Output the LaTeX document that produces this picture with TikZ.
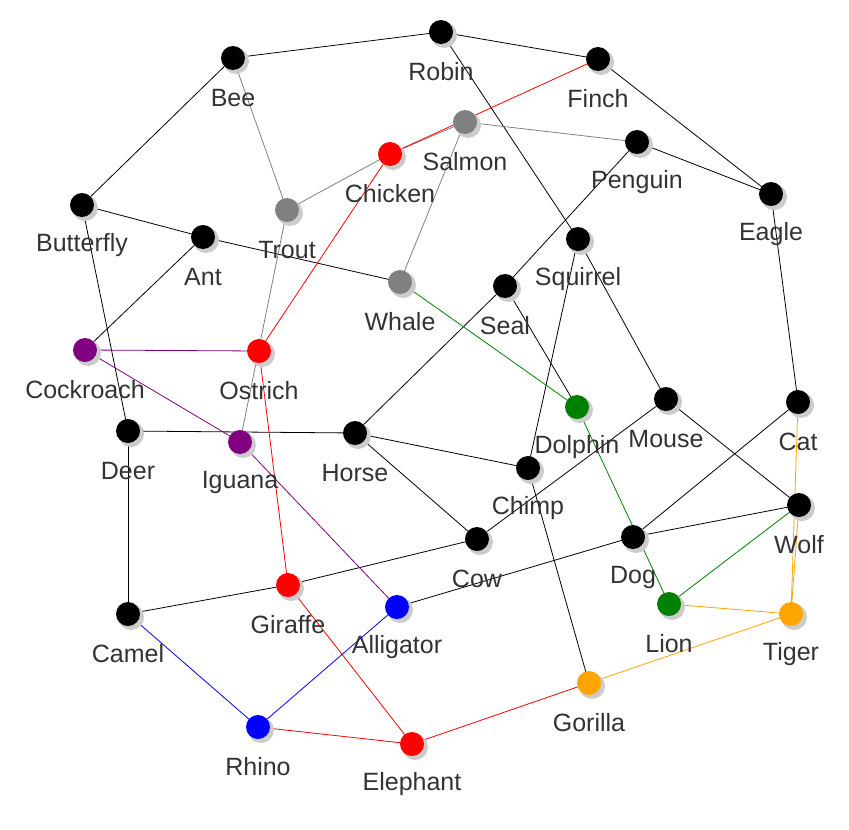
\documentclass[tikz,border=0pt]{standalone}
\usepackage{fontspec}
\setmainfont{Liberation Sans}
\definecolor{pur}{HTML}{800080}
\definecolor{org}{HTML}{FFA500}
\definecolor{grn}{HTML}{008000}
\begin{document}
\begin{tikzpicture}[x=1pt,y=-1pt,
 v/.style={circle,fill=#1,minimum size=24pt,inner sep=0pt},
 lab/.style={text=black!80,font=\fontsize{25}{26}\selectfont},
 e/.style={line width=0.8pt,#1}]
\useasboundingbox (0,0) rectangle (849,830);
\foreach \n/\x/\y in {Robin/441/32,Bee/233/58,Finch/598/59,Salmon/465/122,Chicken/390/154,Penguin/637/142,Eagle/771/194,Butterfly/82/205,Trout/287/210,Ant/203/237,Squirrel/578/239,Whale/400/282,Seal/505/286,Cockroach/85/350,Ostrich/259/351,Dolphin/577/407,Mouse/666/399,Cat/798/402,Deer/128/431,Iguana/240/442,Horse/355/433,Chimp/528/468,Wolf/799/505,Cow/477/539,Dog/633/537,Giraffe/288/585,Camel/128/614,Alligator/397/607,Lion/669/604,Tiger/791/614,Gorilla/589/683,Rhino/258/727,Elephant/412/744}
 {\coordinate (\n) at (\x,\y);}
\foreach \a/\b in {Bee/Robin,Robin/Finch,Robin/Squirrel,Finch/Eagle,Penguin/Eagle,Bee/Butterfly,Butterfly/Ant,Ant/Whale,Butterfly/Deer,Ant/Cockroach,Penguin/Seal,Seal/Horse,Seal/Dolphin,Squirrel/Mouse,Squirrel/Chimp,Deer/Horse,Deer/Camel,Horse/Chimp,Horse/Cow,Chimp/Gorilla,Mouse/Wolf,Mouse/Cow,Cat/Dog,Eagle/Cat,Wolf/Dog,Camel/Giraffe,Giraffe/Cow,Alligator/Dog}
 \draw[e=black] (\a) -- (\b);
\foreach \a/\b in {Bee/Trout,Trout/Chicken,Chicken/Salmon,Salmon/Penguin,Salmon/Whale,Trout/Iguana}
 \draw[e=gray] (\a) -- (\b);
\foreach \a/\b in {Chicken/Finch,Chicken/Ostrich,Ostrich/Giraffe,Giraffe/Elephant,Gorilla/Elephant,Rhino/Elephant}
 \draw[e=red] (\a) -- (\b);
\foreach \a/\b in {Whale/Dolphin,Dolphin/Lion,Wolf/Lion}
 \draw[e=grn] (\a) -- (\b);
\foreach \a/\b in {Cockroach/Ostrich,Cockroach/Iguana,Iguana/Alligator}
 \draw[e=pur] (\a) -- (\b);
\foreach \a/\b in {Camel/Rhino,Rhino/Alligator}
 \draw[e=blue] (\a) -- (\b);
\foreach \a/\b in {Cat/Tiger,Wolf/Tiger,Lion/Tiger,Tiger/Gorilla}
 \draw[e=org] (\a) -- (\b);
\foreach \n/\x/\y/\c in {Robin/441/32/black,Bee/233/58/black,Finch/598/59/black,Salmon/465/122/gray,Chicken/390/154/red,Penguin/637/142/black,Eagle/771/194/black,Butterfly/82/205/black,Trout/287/210/gray,Ant/203/237/black,Squirrel/578/239/black,Whale/400/282/gray,Seal/505/286/black,Cockroach/85/350/pur,Ostrich/259/351/red,Dolphin/577/407/grn,Mouse/666/399/black,Cat/798/402/black,Deer/128/431/black,Iguana/240/442/pur,Horse/355/433/black,Chimp/528/468/black,Wolf/799/505/black,Cow/477/539/black,Dog/633/537/black,Giraffe/288/585/red,Camel/128/614/black,Alligator/397/607/blue,Lion/669/604/grn,Tiger/791/614/org,Gorilla/589/683/org,Rhino/258/727/blue,Elephant/412/744/red}
 {\fill[black!20] (\x+3,\y+3) circle (13);
  \node[v=\c] (n\n) at (\x,\y) {};
  \node[lab] (l\n) at (\x,\y+40) {\n};}
\end{tikzpicture}
\end{document}
